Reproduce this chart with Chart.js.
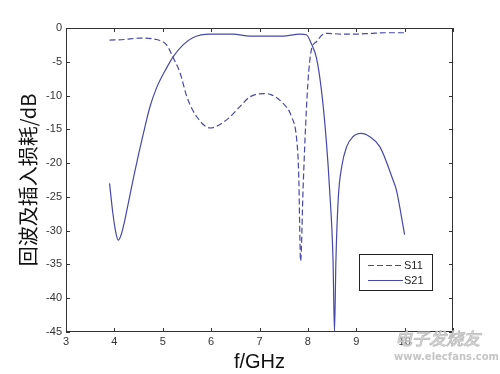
<!DOCTYPE html>
<html>
<head>
<meta charset="utf-8">
<script src="https://cdn.jsdelivr.net/npm/chart.js@4.4.1/dist/chart.umd.min.js"></script>
<style>
  html, body { margin: 0; padding: 0; background: #fff; }
  #wrap { width: 500px; height: 374px; position: relative; }
</style>
</head>
<body>
<div id="wrap"><canvas id="graph" width="500" height="374"></canvas></div>
<script>
// S11 return loss (dashed) and S21 insertion loss (solid)
const s11Freq = [3.9, 4.2, 4.53, 4.87, 5.08, 5.21, 5.36, 5.5, 5.7, 5.98, 6.32, 6.6, 6.8, 7.1, 7.25, 7.48, 7.66, 7.77, 7.81, 7.85, 7.9, 7.94, 8.0, 8.07, 8.18, 8.3, 8.4, 8.7, 9.0, 9.3, 9.6, 10.0];
const s11Db   = [-1.8, -1.7, -1.5, -1.7, -2.5, -4.3, -6.7, -10.2, -13.1, -14.8, -13.6, -11.6, -10.2, -9.7, -9.9, -11.1, -13.1, -16.6, -21.5, -34.5, -24, -16.6, -8.2, -3.3, -2.0, -1.0, -0.8, -0.9, -0.9, -0.8, -0.7, -0.7];

const s21Freq = [3.9, 3.97, 4.03, 4.08, 4.14, 4.22, 4.3, 4.4, 4.5, 4.6, 4.73, 4.87, 5.08, 5.21, 5.42, 5.63, 5.98, 6.45, 6.8, 7.48, 7.83, 7.97, 8.07, 8.18, 8.28, 8.38, 8.45, 8.52, 8.55, 8.58, 8.63, 8.7, 8.8, 8.93, 9.1, 9.28, 9.49, 9.76, 9.83, 10.0];
const s21Db   = [-23, -27.5, -30.3, -31.4, -30.6, -28.3, -25.5, -22, -18.7, -15.6, -11.8, -8.9, -5.9, -4.3, -2.5, -1.4, -0.9, -0.9, -1.2, -1.2, -0.9, -1.0, -2.3, -4.5, -9.2, -16.6, -24, -34.3, -45, -34.3, -25, -20.5, -17.6, -16.1, -15.6, -16.1, -17.6, -22.5, -24, -30.6];

const xTicks = [3, 4, 5, 6, 7, 8, 9, 10, 11];
const xTickLabels = ['3', '4', '5', '6', '7', '8', '9', '10', ''];
const yTicks = [0, -5, -10, -15, -20, -25, -30, -35, -40, -45];

const lineColor = 'rgb(72, 72, 168)';
const axisColor = '#333';

function toPoints(xs, ys) {
  return xs.map((x, i) => ({ x: x, y: ys[i] }));
}

// box, inward ticks and legend, like the matlab figure
const frame = {
  id: 'frame',
  afterDraw(chart) {
    const c = chart.ctx;
    const a = chart.chartArea;
    const xs = chart.scales.x;
    const ys = chart.scales.y;
    c.save();
    c.strokeStyle = axisColor;
    c.lineWidth = 1;
    c.strokeRect(a.left + 0.5, a.top + 0.5, a.right - a.left - 1, a.bottom - a.top - 1);
    c.beginPath();
    xTicks.forEach(v => {
      const px = Math.round(xs.getPixelForValue(v)) + 0.5;
      c.moveTo(px, a.bottom); c.lineTo(px, a.bottom - 4);
      c.moveTo(px, a.top); c.lineTo(px, a.top + 4);
    });
    yTicks.forEach(v => {
      const py = Math.round(ys.getPixelForValue(v)) + 0.5;
      c.moveTo(a.left, py); c.lineTo(a.left + 4, py);
      c.moveTo(a.right, py); c.lineTo(a.right - 4, py);
    });
    c.stroke();

    // legend
    const lx = 359, ly = 254, lw = 73, lh = 36;
    c.fillStyle = '#fff';
    c.fillRect(lx, ly, lw, lh);
    c.strokeStyle = '#222';
    c.strokeRect(lx + 0.5, ly + 0.5, lw, lh);
    c.font = '11px "Liberation Sans", Arial, sans-serif';
    c.textBaseline = 'middle';
    chart.data.datasets.forEach((ds, i) => {
      const y = ly + 11 + i * 15 + 0.5;
      c.strokeStyle = ds.borderColor;
      c.setLineDash(ds.borderDash || []);
      c.beginPath();
      c.moveTo(lx + 9, y); c.lineTo(lx + 44, y);
      c.stroke();
      c.setLineDash([]);
      c.fillStyle = '#222';
      c.fillText(ds.label, lx + 45, y);
    });

    // faint site watermark
    c.fillStyle = 'rgba(255, 255, 255, 0.7)';
    c.strokeStyle = 'rgba(185, 185, 185, 0.9)';
    c.lineWidth = 1;
    c.font = 'italic 17px "Noto Sans CJK SC", sans-serif';
    c.fillText('电子发烧友', 395, 339);
    c.strokeText('电子发烧友', 395, 339);
    c.fillStyle = 'rgba(190, 190, 190, 0.9)';
    c.font = 'bold 10px "DejaVu Sans", sans-serif';
    c.fillText('www.elecfans.com', 394, 357);
    c.restore();
  }
};

const ctx = document.getElementById('graph').getContext('2d');
new Chart(ctx, {
  type: 'line',
  data: {
    datasets: [
      {
        label: 'S11',
        data: toPoints(s11Freq, s11Db),
        borderColor: lineColor,
        borderWidth: 1.2,
        borderDash: [6, 3],
        pointRadius: 0,
        cubicInterpolationMode: 'monotone',
        fill: false
      },
      {
        label: 'S21',
        data: toPoints(s21Freq, s21Db),
        borderColor: lineColor,
        borderWidth: 1.2,
        pointRadius: 0,
        cubicInterpolationMode: 'monotone',
        fill: false
      }
    ]
  },
  options: {
    responsive: false,
    animation: false,
    layout: { padding: { top: 28, right: 47, bottom: 0, left: 0 } },
    plugins: {
      legend: { display: false },
      tooltip: { enabled: false }
    },
    scales: {
      x: {
        type: 'linear',
        min: 3,
        max: 11,
        afterBuildTicks: s => { s.ticks = xTicks.map(v => ({ value: v })); },
        afterFit: s => { s.height = 42; },
        grid: { display: false, drawTicks: false },
        border: { display: false },
        ticks: {
          padding: 3,
          maxRotation: 0,
          autoSkip: false,
          color: axisColor,
          font: { family: '"Liberation Sans", Arial, sans-serif', size: 11 },
          callback: v => xTickLabels[xTicks.indexOf(v)]
        },
        title: {
          display: true,
          text: 'f/GHz',
          color: '#111',
          padding: { top: 2, bottom: 0 },
          font: { family: '"Liberation Sans", Arial, sans-serif', size: 20 }
        }
      },
      y: {
        min: -45,
        max: 0,
        afterBuildTicks: s => { s.ticks = yTicks.map(v => ({ value: v })); },
        afterFit: s => { s.width = 66; },
        grid: { display: false, drawTicks: false },
        border: { display: false },
        ticks: {
          padding: 4,
          autoSkip: false,
          color: axisColor,
          font: { family: '"Liberation Sans", Arial, sans-serif', size: 11 }
        },
        title: {
          display: true,
          text: '回波及插入损耗/dB',
          color: '#111',
          padding: { top: 16, bottom: 0 },
          font: { family: '"Noto Sans CJK SC", sans-serif', size: 20 }
        }
      }
    }
  },
  plugins: [frame]
});
</script>
</body>
</html>
